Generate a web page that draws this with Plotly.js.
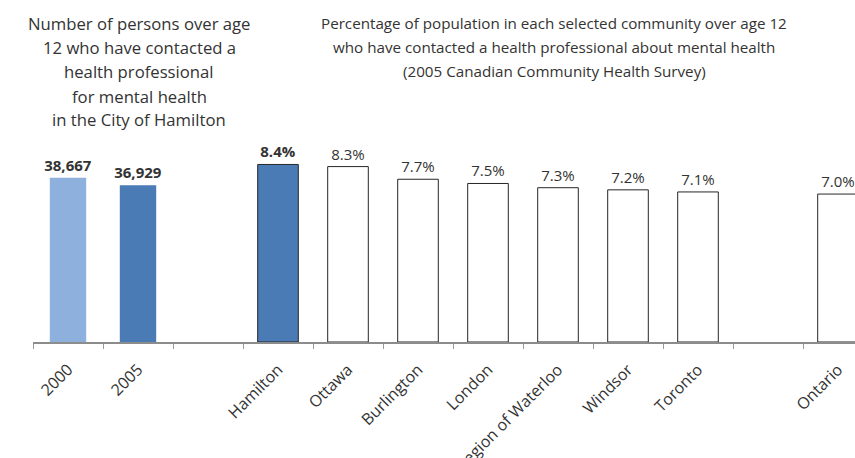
<!DOCTYPE html>
<html>
<head>
<meta charset="utf-8">
<script src="https://cdn.plot.ly/plotly-3.0.1.min.js"></script>
<style>html,body{margin:0;padding:0;background:#fff;}#chart{width:855px;height:458px;}</style>
</head>
<body>
<div id="chart"></div>
<script>
// ---- data ----
const yearCats = ['2000', '2005'];
const personsCounts = [38667, 36929];
const communityCats = ['Hamilton', 'Ottawa', 'Burlington', 'London', 'Region of Waterloo', 'Windsor', 'Toronto', 'Ontario'];
const communityPct = [8.4, 8.3, 7.7, 7.5, 7.3, 7.2, 7.1, 7.0];
const allCats = ['2000', '2005', ' ', 'Hamilton', 'Ottawa', 'Burlington', 'London', 'Region of Waterloo', 'Windsor', 'Toronto', '  ', 'Ontario'];
const leftTitleLines = ['Number of persons over age', '12 who have contacted a', 'health professional', 'for mental health', 'in the City of Hamilton'];
const rightTitleLines = ['Percentage of population in each selected community over age 12', 'who have contacted a health professional about mental health', '(2005 Canadian Community Health Survey)'];

const FONT = 'Open Sans, sans-serif';
const TXT = '#333333';

const W = 855, H = 458;
const mL = 33, mR = 0, mT = 100, mB = 116;
const plotH = H - mT - mB;
const plotW = W - mL - mR;

const leftTrace = {
  type: 'bar',
  x: yearCats,
  y: personsCounts,
  yaxis: 'y',
  width: yearCats.map(() => 0.52),
  marker: { color: ['#8EB0DC', '#4B7BB5'], line: { width: 0 } },
  text: personsCounts.map(v => '<b>' + v.toLocaleString('en-US') + '</b>'),
  textposition: 'outside',
  constraintext: 'none',
  textfont: { family: FONT, size: 15, color: TXT },
  cliponaxis: false,
  hoverinfo: 'skip'
};

const rightTrace = {
  type: 'bar',
  x: communityCats,
  y: communityPct,
  yaxis: 'y2',
  width: communityCats.map(() => 0.58),
  marker: {
    color: communityCats.map(c => c === 'Hamilton' ? '#4B7BB5' : '#ffffff'),
    line: { color: '#262626', width: 1 }
  },
  text: communityPct.map((v, i) => communityCats[i] === 'Hamilton' ? '<b>' + v.toFixed(1) + '%</b>' : v.toFixed(1) + '%'),
  textposition: 'outside',
  constraintext: 'none',
  textfont: { family: FONT, size: 15, color: TXT },
  cliponaxis: false,
  hoverinfo: 'skip'
};

function py2paper(py) { return (H - mB - py) / plotH; }
function px2paper(px) { return (px - mL) / plotW; }

const annotations = [];
const leftYs = [23, 47.5, 72, 96, 120];
leftTitleLines.forEach((t, i) => annotations.push({
  text: t, xref: 'paper', yref: 'paper', x: px2paper(139), y: py2paper(leftYs[i]),
  xanchor: 'center', yanchor: 'middle', showarrow: false,
  font: { family: FONT, size: 16.7, color: TXT }
}));
const rightYs = [23, 47, 71];
rightTitleLines.forEach((t, i) => annotations.push({
  text: t, xref: 'paper', yref: 'paper', x: px2paper(554), y: py2paper(rightYs[i]),
  xanchor: 'center', yanchor: 'middle', showarrow: false,
  font: { family: FONT, size: 15.2, color: TXT }
}));

const layout = {
  width: W, height: H,
  margin: { l: mL, r: mR, t: mT, b: mB, pad: 0 },
  paper_bgcolor: '#ffffff', plot_bgcolor: '#ffffff',
  showlegend: false,
  barmode: 'overlay',
  xaxis: {
    type: 'category',
    categoryorder: 'array', categoryarray: allCats,
    range: [-0.5, -0.5 + plotW / 70],
    showline: true, linecolor: '#8c8c8c', linewidth: 2,
    ticks: 'outside', tickson: 'boundaries', ticklen: 5, tickcolor: '#9a9a9a', tickwidth: 1,
    tickangle: -45,
    ticklabelstandoff: 10,
    tickfont: { family: FONT, size: 16, color: TXT },
    showgrid: false, zeroline: false, fixedrange: true
  },
  yaxis: { range: [0, 57000], visible: false, showgrid: false, zeroline: false, fixedrange: true },
  yaxis2: { range: [0, 11.45], overlaying: 'y', visible: false, showgrid: false, zeroline: false, fixedrange: true },
  annotations: annotations
};

Plotly.newPlot('chart', [leftTrace, rightTrace], layout, { displayModeBar: false, staticPlot: true });
</script>
</body>
</html>
